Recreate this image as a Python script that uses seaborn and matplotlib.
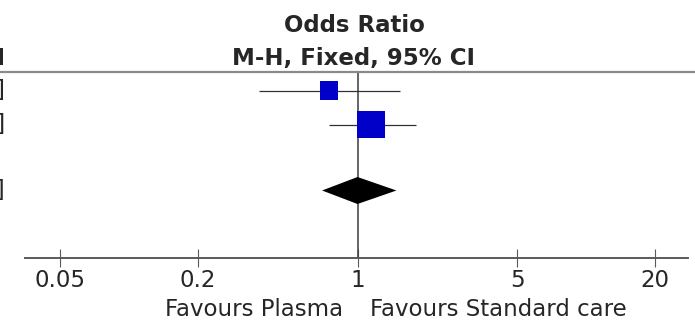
import numpy as np
import pandas as pd
import matplotlib
matplotlib.use("Agg")
import matplotlib.pyplot as plt
from matplotlib.lines import Line2D
from matplotlib.ticker import NullLocator
import seaborn as sns

# Study-level results (odds ratio with 95% CI) and fixed-effect weights
studies = ["Study 1", "Study 2"]
odds_ratio = [0.75, 1.15]
ci_low = [0.37, 0.75]
ci_high = [1.53, 1.81]
weight = [29.3, 70.7]

# Pooled Mantel-Haenszel estimate
pooled_or = 1.00
pooled_low = 0.70
pooled_high = 1.48

tick_values = [0.05, 0.2, 1, 5, 20]
tick_labels = ["0.05", "0.2", "1", "5", "20"]
header_lines = ["Odds Ratio", "M-H, Fixed, 95% CI"]
left_label = "Favours Plasma"
right_label = "Favours Standard care"

df = pd.DataFrame({"study": studies, "or": odds_ratio, "lo": ci_low,
                   "hi": ci_high, "weight": weight})

# ---- layout (pixels on a 695 x 320 canvas) ----
W, H = 695, 320
FS = 16.5
TXT = "#262626"
sns.set_theme(style="white")
plt.rcParams["font.family"] = ["DejaVu Sans"]

fig = plt.figure(figsize=(W / 100, H / 100), dpi=100)
fx = lambda px: px / W
fy = lambda py: 1 - py / H

axis_left, axis_right = 25, 688      # extent of the scale line
axis_y, top_rule_y = 258, 72         # scale line and header rule
px_first, px_last = 60, 655          # where the outer ticks sit
row_y = [90.5, 124.5]                # study rows
pooled_y = 190.5
diamond_half = 13.5

ax = fig.add_axes([fx(axis_left), fy(axis_y), (axis_right - axis_left) / W,
                   (axis_y - top_rule_y) / H])
ax.set_xscale("log")
ppd = (px_last - px_first) / np.log10(tick_values[-1] / tick_values[0])
xmin = 10 ** (np.log10(tick_values[0]) - (px_first - axis_left) / ppd)
xmax = 10 ** (np.log10(tick_values[-1]) + (axis_right - px_last) / ppd)
ax.set_xlim(xmin, xmax)
ax.set_ylim(axis_y, top_rule_y)
ax.patch.set_alpha(0)

for s in ["top", "left", "right"]:
    ax.spines[s].set_visible(False)
ax.spines["bottom"].set_color("#5a5a5a")
ax.spines["bottom"].set_linewidth(1.4)
ax.set_yticks([])
ax.xaxis.set_minor_locator(NullLocator())
ax.set_xticks(tick_values, tick_labels)
ax.tick_params(axis="x", bottom=True, direction="inout", length=12.5,
               width=0.8, color="#5a5a5a", labelsize=FS, pad=1.5,
               labelcolor=TXT)

# line of no effect
ax.axvline(1, color="#3a3a3a", lw=1.1, zorder=1)

# confidence intervals
df["y"] = row_y
ax.hlines(df["y"], df["lo"], df["hi"], color="#333333", lw=0.9, zorder=2)

# weighted squares (area proportional to weight)
sns.scatterplot(data=df, x="or", y="y", size="weight", size_norm=(0, 100),
                sizes=(0, 574), marker="s", color="#0000c8", linewidth=0,
                legend=False, ax=ax, zorder=3)
ax.set_xlabel("")
ax.set_ylabel("")

# pooled diamond
ax.fill([pooled_low, pooled_or, pooled_high, pooled_or],
        [pooled_y, pooled_y - diamond_half, pooled_y, pooled_y + diamond_half],
        color="black", lw=0, zorder=3)

# header rule across the full width
fig.add_artist(Line2D([0, 1], [fy(top_rule_y)] * 2, color="#8a8a8a", lw=1.6))

# column header
center_px = 354
fig.text(fx(center_px), fy(32), header_lines[0], ha="center", va="baseline",
         fontsize=FS, fontweight="bold", color=TXT)
fig.text(fx(center_px), fy(65), header_lines[1], ha="center", va="baseline",
         fontsize=FS, fontweight="bold", color=TXT)

# favours labels
fig.text(fx(343), fy(316), left_label, ha="right", va="baseline",
         fontsize=FS, color=TXT)
fig.text(fx(370), fy(316), right_label, ha="left", va="baseline",
         fontsize=FS, color=TXT)

# neighbouring column (estimate and CI text), running off the left edge
fig.text(fx(5), fy(65), "95% CI", ha="right", va="baseline", fontsize=FS,
         fontweight="bold", color=TXT)
row_text = [f"{o:.2f} [{l:.2f}, {h:.2f}]" for o, l, h in
            zip(odds_ratio + [pooled_or], ci_low + [pooled_low],
                ci_high + [pooled_high])]
for txt, y in zip(row_text, row_y + [pooled_y]):
    fig.text(fx(5), fy(y + 6.5), txt, ha="right", va="baseline", fontsize=FS,
             color=TXT)

fig.savefig("out.png", dpi=100)
